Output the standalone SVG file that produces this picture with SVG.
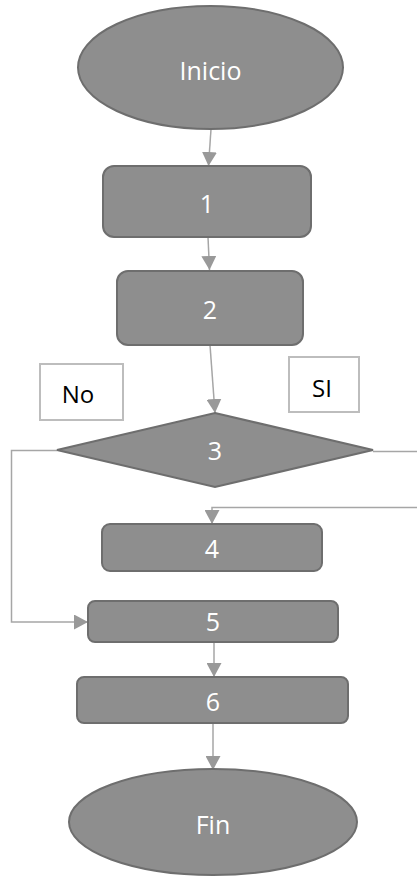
<svg xmlns="http://www.w3.org/2000/svg" width="417" height="877" viewBox="0 0 417 877">
<style>
.n{fill:#8e8e8e;stroke:#6e6e6e;stroke-width:2}
.t{fill:#ffffff;font-family:"Open Sans","Noto Sans",sans-serif;font-size:25px;text-anchor:middle}
.lb{fill:#ffffff;stroke:#bdbdbd;stroke-width:2}
.lt{fill:#000000;font-family:"Open Sans","Noto Sans",sans-serif;font-size:24px;text-anchor:middle}
.c{fill:none;stroke:#a6a6a6;stroke-width:1.5;marker-end:url(#ah)}
</style>
<defs>
<marker id="ah" viewBox="0 0 14 15" refX="14" refY="7.5" markerWidth="14" markerHeight="15" markerUnits="userSpaceOnUse" orient="auto">
<path d="M0,0 L14,7.5 L0,15 Z" fill="#999999"/>
</marker>
</defs>
<rect width="417" height="877" fill="#ffffff"/>
<g id="connectors">
<path class="c" d="M211,129 L208.5,166" />
<path class="c" d="M208,237 L209.5,270" />
<path class="c" d="M210,345 L215,413" />
<path class="c" d="M57,450.5 L11.5,450.5 L11.5,622 L88,622" />
<path class="c" d="M373,451.5 L430,451.5 L430,507.5 L212,507.5 L212,524" />
<path class="c" d="M214,642 L214,677" />
<path class="c" d="M213,723 L213,770" />
</g>
<g id="inicio">
<ellipse class="n" cx="210.5" cy="67.5" rx="132.5" ry="61.5"/>
<text class="t" x="210.5" y="80">Inicio</text>
</g>
<g id="n1">
<rect class="n" x="103" y="166" width="208" height="71" rx="11"/>
<text class="t" x="207" y="213">1</text>
</g>
<g id="n2">
<rect class="n" x="117" y="271" width="186" height="74" rx="11"/>
<text class="t" x="210" y="319">2</text>
</g>
<g id="no">
<rect class="lb" x="40" y="364" width="83" height="56"/>
<text class="lt" x="78" y="403">No</text>
</g>
<g id="si">
<rect class="lb" x="289" y="357" width="70" height="55"/>
<text class="lt" x="322" y="397">SI</text>
</g>
<g id="n3">
<path class="n" d="M215,413 L373,450 L215,487 L57,450 Z"/>
<text class="t" x="215" y="460">3</text>
</g>
<g id="n4">
<rect class="n" x="102" y="524" width="220" height="47" rx="8"/>
<text class="t" x="212" y="558">4</text>
</g>
<g id="n5">
<rect class="n" x="88" y="601" width="250" height="41" rx="7"/>
<text class="t" x="213" y="631">5</text>
</g>
<g id="n6">
<rect class="n" x="77" y="677" width="271" height="46" rx="7"/>
<text class="t" x="213" y="711">6</text>
</g>
<g id="fin">
<ellipse class="n" cx="213" cy="822" rx="144" ry="53"/>
<text class="t" x="213" y="834">Fin</text>
</g>
</svg>
